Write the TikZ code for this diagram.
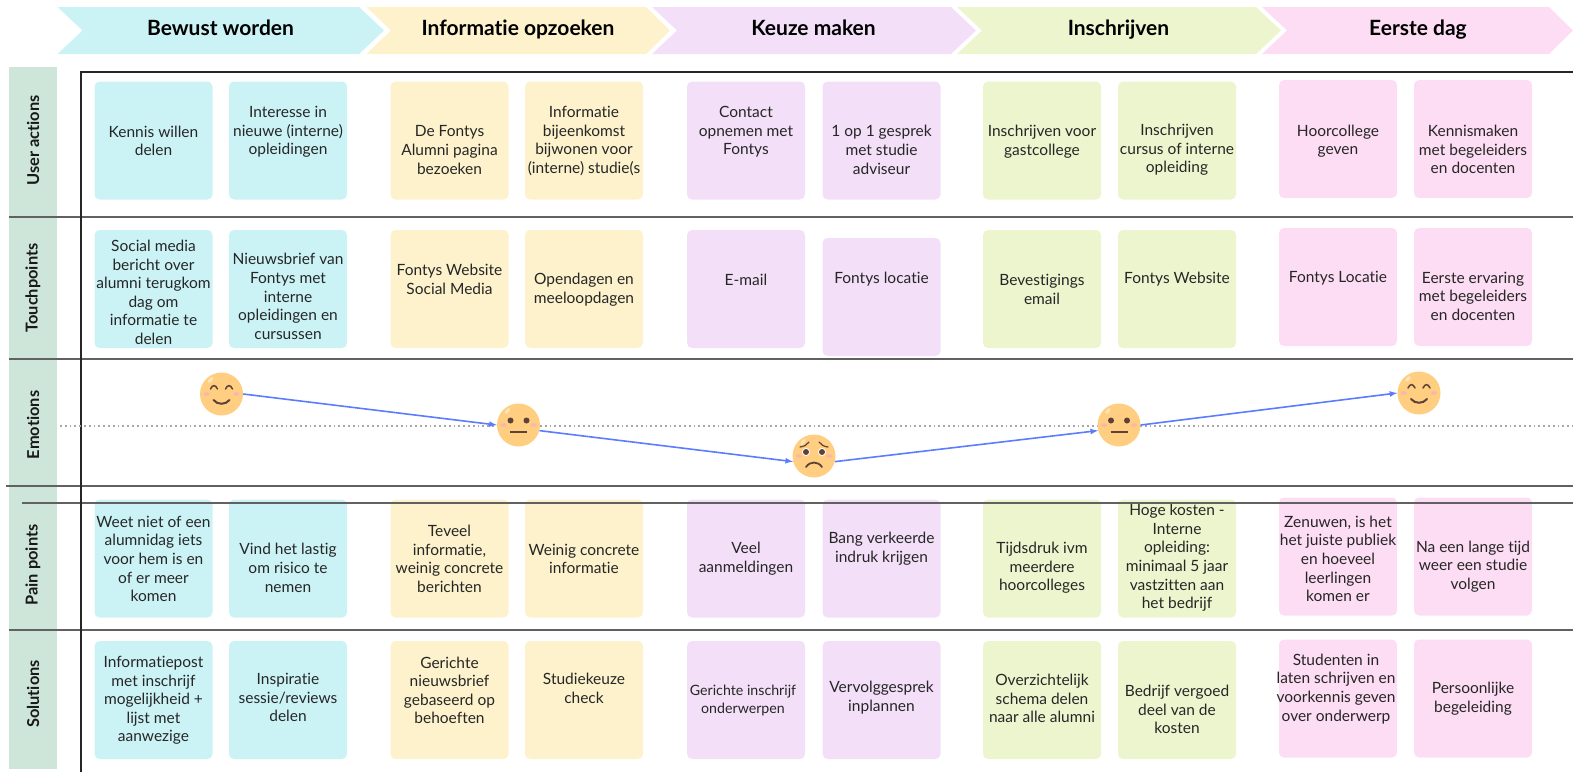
\documentclass[tikz,border=0pt]{standalone}
\usepackage{fontspec}
\setmainfont{Lato}[Ligatures=NoCommon]
\usepackage{tikz}
\usetikzlibrary{positioning}
\definecolor{bluenote}{HTML}{CBF3F6}
\definecolor{yellownote}{HTML}{FDF2CC}
\definecolor{purplenote}{HTML}{F3E0F8}
\definecolor{greennote}{HTML}{ECF5CE}
\definecolor{pinknote}{HTML}{FDDDF4}
\definecolor{rowgreen}{HTML}{CDE6D9}
\definecolor{facecol}{HTML}{FFCE80}
\definecolor{cheekcol}{HTML}{F9B5AE}
\definecolor{featurecol}{HTML}{5E4137}
\definecolor{linecol}{HTML}{5B7CFF}
\tikzset{
  notebox/.style={rounded corners=5pt,minimum size=118pt,inner sep=0pt},
  bbox/.style={notebox,fill=bluenote},
  ybox/.style={notebox,fill=yellownote},
  pbox/.style={notebox,fill=purplenote},
  gbox/.style={notebox,fill=greennote},
  rbox/.style={notebox,fill=pinknote},
  notetext/.style={align=center,inner sep=0pt,yshift=-.4pt,text=black!85,font=\fontsize{15.5}{18.6}\selectfont},
  head/.style={inner sep=0pt,text height=15pt,text depth=4pt,font=\fontsize{21}{24}\selectfont\bfseries},
  rowlabel/.style={rotate=90,inner sep=0pt,text=black!90,font=\fontsize{16.4}{18}\selectfont\bfseries},
  rowline/.style={draw=black!62,line width=1.2pt},
  face/.style={circle,fill=facecol,minimum size=43pt,inner sep=0pt},
  mood/.style={draw=linecol,line width=1.6pt,-latex},
  feat/.style={draw=featurecol,line width=1.5pt,line cap=round},
  facebase/.pic={
    \fill[white,opacity=.45,shift={(-11,-14)},rotate=-40] (0,0) ellipse (1.8pt and 3.5pt);
    \fill[cheekcol] (-15,0) ellipse (3pt and 1.8pt);
    \fill[cheekcol] (15,0) ellipse (3pt and 1.8pt);
  },
  happyface/.pic={
    \pic {facebase};
    \draw[feat] (-11,-5) .. controls (-9,-9.5) and (-6,-9.5) .. (-4,-5);
    \draw[feat] (4,-5) .. controls (6,-9.5) and (9,-9.5) .. (11,-5);
    \draw[feat,line width=2pt] (-8,6) .. controls (-4,11) and (4,11) .. (8,6);
  },
  flatface/.pic={
    \pic {facebase};
    \fill[featurecol] (-8,-4.5) circle (3pt);
    \fill[featurecol] (8,-4.5) circle (3pt);
    \draw[featurecol,line width=2pt] (-8.5,7) -- (8.5,7);
  },
  sadface/.pic={
    \pic {facebase};
    \fill[white] (-8,-4) circle (4pt);
    \fill[white] (8,-4) circle (4pt);
    \fill[featurecol] (-8,-4) circle (3pt);
    \fill[featurecol] (8,-4) circle (3pt);
    \draw[feat,line width=1.2pt] (-14,-9) .. controls (-10,-9.5) and (-7,-11) .. (-5,-14);
    \draw[feat,line width=1.2pt] (14,-9) .. controls (10,-9.5) and (7,-11) .. (5,-14);
    \draw[feat,line width=1.8pt] (-8,11) .. controls (-4,5) and (4,5) .. (8,11);
  },
}
\begin{document}
\begin{tikzpicture}[x=1pt,y=-1pt]
\useasboundingbox (0,0) rectangle (1573,772);

\fill[bluenote] (57.5,7) -- (359,7) -- (384,30.5) -- (359,54) -- (57.5,54) -- (82.5,30.5) -- cycle;
\fill[yellownote] (366.5,7) -- (646,7) -- (670,30.5) -- (646,54) -- (366.5,54) -- (391,30.5) -- cycle;
\fill[purplenote] (652,7) -- (951,7) -- (976,30.5) -- (951,54) -- (652,54) -- (677,30.5) -- cycle;
\fill[greennote] (957,7) -- (1256,7) -- (1281,30.5) -- (1256,54) -- (957,54) -- (982,30.5) -- cycle;
\fill[pinknote] (1262,7) -- (1549,7) -- (1573,30.5) -- (1549,54) -- (1262,54) -- (1287,30.5) -- cycle;
\node[head] (h1) at (220.5,30) {Bewust worden};
\node[head] (h2) at (518,30) {Informatie opzoeken};
\node[head] (h3) at (813.5,30) {Keuze maken};
\node[head] (h4) at (1118.5,30) {Inschrijven};
\node[head] (h5) at (1418,30) {Eerste dag};

\fill[rowgreen] (9,67) rectangle (57,769);
\node[rowlabel] (l1) at (33,140.5) {User actions};
\node[rowlabel] (l2) at (33,288) {Touchpoints};
\node[rowlabel] (l3) at (33,425) {Emotions};
\node[rowlabel] (l4) at (33,565) {Pain points};
\node[rowlabel] (l5) at (33,694) {Solutions};

\node[bbox] (u1) at (153.5,140.5) {}; \node[notetext] (u1t) at (u1) {Kennis willen\\delen};
\node[bbox] (u2) at (288,140.5) {}; \node[notetext,yshift=9pt] (u2t) at (u2) {Interesse in\\nieuwe (interne)\\opleidingen};
\node[ybox] (u3) at (449.5,140.5) {}; \node[notetext,yshift=-9pt] (u3t) at (u3) {De Fontys\\Alumni pagina\\bezoeken};
\node[ybox] (u4) at (584,140.5) {}; \node[notetext] (u4t) at (u4) {Informatie\\bijeenkomst\\bijwonen voor\\(interne) studie(s};
\node[pbox] (u5) at (746,140.5) {}; \node[notetext,yshift=9pt] (u5t) at (u5) {Contact\\opnemen met\\Fontys};
\node[pbox] (u6) at (881.5,140.5) {}; \node[notetext,yshift=-9pt] (u6t) at (u6) {1 op 1 gesprek\\met studie\\adviseur};
\node[gbox] (u7) at (1042,140.5) {}; \node[notetext,yshift=-1pt] (u7t) at (u7) {Inschrijven voor\\gastcollege};
\node[gbox] (u8) at (1177,140.5) {}; \node[notetext,yshift=-9pt] (u8t) at (u8) {Inschrijven\\cursus of interne\\opleiding};
\node[rbox] (u9) at (1338,139) {}; \node[notetext,yshift=-2pt] (u9t) at (u9) {Hoorcollege\\geven};
\node[rbox] (u10) at (1473,139) {}; \node[notetext,yshift=-10pt] (u10t) at (u10) {Kennismaken\\met begeleiders\\en docenten};

\node[bbox] (t1) at (153.5,289) {}; \node[notetext,yshift=-3pt] (t1t) at (t1) {Social media\\bericht over\\alumni terugkom\\dag om\\informatie te\\delen};
\node[bbox] (t2) at (288,289) {}; \node[notetext,yshift=-7pt] (t2t) at (t2) {Nieuwsbrief van\\Fontys met\\interne\\opleidingen en\\cursussen};
\node[ybox] (t3) at (449.5,289) {}; \node[notetext,yshift=10pt] (t3t) at (t3) {Fontys Website\\Social Media};
\node[ybox] (t4) at (584,289) {}; \node[notetext] (t4t) at (t4) {Opendagen en\\meeloopdagen};
\node[pbox] (t5) at (746,289) {}; \node[notetext,yshift=10pt] (t5t) at (t5) {E-mail};
\node[pbox] (t6) at (881.5,297) {}; \node[notetext,yshift=18pt] (t6t) at (t6) {Fontys locatie};
\node[gbox] (t7) at (1042,289) {}; \node[notetext] (t7t) at (t7) {Bevestigings\\email};
\node[gbox] (t8) at (1177,289) {}; \node[notetext,yshift=10pt] (t8t) at (t8) {Fontys Website};
\node[rbox] (t9) at (1338,287) {}; \node[notetext,yshift=9pt] (t9t) at (t9) {Fontys Locatie};
\node[rbox] (t10) at (1473,287) {}; \node[notetext,yshift=-9pt] (t10t) at (t10) {Eerste ervaring\\met begeleiders\\en docenten};

\node[bbox] (p1) at (153.5,558.5) {}; \node[notetext] (p1t) at (p1) {Weet niet of een\\alumnidag iets\\voor hem is en\\of er meer\\komen};
\node[bbox] (p2) at (288,558.5) {}; \node[notetext,yshift=-9pt] (p2t) at (p2) {Vind het lastig\\om risico te\\nemen};
\node[ybox] (p3) at (449.5,558.5) {}; \node[notetext] (p3t) at (p3) {Teveel\\informatie,\\weinig concrete\\berichten};
\node[ybox] (p4) at (584,558.5) {}; \node[notetext] (p4t) at (p4) {Weinig concrete\\informatie};
\node[pbox] (p5) at (746,558.5) {}; \node[notetext] (p5t) at (p5) {Veel\\aanmeldingen};
\node[pbox] (p6) at (881.5,558.5) {}; \node[notetext,yshift=10pt] (p6t) at (p6) {Bang verkeerde\\indruk krijgen};
\node[gbox] (p7) at (1042,558.5) {}; \node[notetext,yshift=-9pt] (p7t) at (p7) {Tijdsdruk ivm\\meerdere\\hoorcolleges};
\node[gbox] (p8) at (1177,558.5) {}; \node[notetext,yshift=1pt] (p8t) at (p8) {Hoge kosten -\\Interne\\opleiding:\\minimaal 5 jaar\\vastzitten aan\\het bedrijf};
\node[rbox] (p9) at (1338,556.5) {}; \node[notetext,yshift=-2pt] (p9t) at (p9) {Zenuwen, is het\\het juiste publiek\\en hoeveel\\leerlingen\\komen er};
\node[rbox] (p10) at (1473,556.5) {}; \node[notetext,yshift=-9.5pt] (p10t) at (p10) {Na een lange tijd\\weer een studie\\volgen};

\node[bbox] (s1) at (153.5,700) {}; \node[notetext] (s1t) at (s1) {Informatiepost\\met inschrijf\\mogelijkheid +\\lijst met\\aanwezige};
\node[bbox] (s2) at (288,700) {}; \node[notetext,yshift=3pt] (s2t) at (s2) {Inspiratie\\sessie/reviews\\delen};
\node[ybox] (s3) at (449.5,700) {}; \node[notetext,yshift=10pt] (s3t) at (s3) {Gerichte\\nieuwsbrief\\gebaseerd op\\behoeften};
\node[ybox] (s4) at (584,700) {}; \node[notetext,yshift=12pt] (s4t) at (s4) {Studiekeuze\\check};
\node[pbox] (s5) at (746,700) {}; \node[notetext,xshift=-3pt,font=\fontsize{14.2}{18.6}\selectfont] (s5t) at (s5) {Gerichte inschrijf\\onderwerpen};
\node[pbox] (s6) at (881.5,700) {}; \node[notetext,yshift=3pt] (s6t) at (s6) {Vervolggesprek\\inplannen};
\node[gbox] (s7) at (1042,700) {}; \node[notetext,yshift=2pt] (s7t) at (s7) {Overzichtelijk\\schema delen\\naar alle alumni};
\node[gbox] (s8) at (1177,700) {}; \node[notetext,yshift=-9pt] (s8t) at (s8) {Bedrijf vergoed\\deel van de\\kosten};
\node[rbox] (s9) at (1338,698.5) {}; \node[notetext,yshift=10pt,xshift=-2pt] (s9t) at (s9) {Studenten in\\laten schrijven en\\voorkennis geven\\over onderwerp};
\node[rbox] (s10) at (1473,698.5) {}; \node[notetext] (s10t) at (s10) {Persoonlijke\\begeleiding};

\draw[rowline] (9,217) -- (1573,217);
\draw[rowline] (9,359) -- (1573,359);
\draw[rowline] (6,486) -- (1573,486);
\draw[rowline] (22,503) -- (1573,503);
\draw[rowline] (9,630) -- (1573,630);
\draw[black!85,line width=2.2pt] (1573,72) -- (81,72) -- (81,772);
\draw[black!35,line width=1.8pt,dash pattern=on 1.8pt off 3pt] (60,426) -- (1573,426);

\node[face] (e1) at (221.5,394) {};
\node[face] (e2) at (518.5,425) {};
\node[face] (e3) at (814,456) {};
\node[face] (e4) at (1119,425) {};
\node[face] (e5) at (1419,393) {};
\pic at (e1) {happyface};
\pic at (e2) {flatface};
\pic at (e3) {sadface};
\pic at (e4) {flatface};
\pic at (e5) {happyface};

\draw[mood] (e1.east) -- (e2.west);
\draw[mood] (e2.-15) -- (e3.195);
\draw[mood] (e3.-15) -- (e4.195);
\draw[mood] (e4.east) -- (e5.west);
\end{tikzpicture}
\end{document}
